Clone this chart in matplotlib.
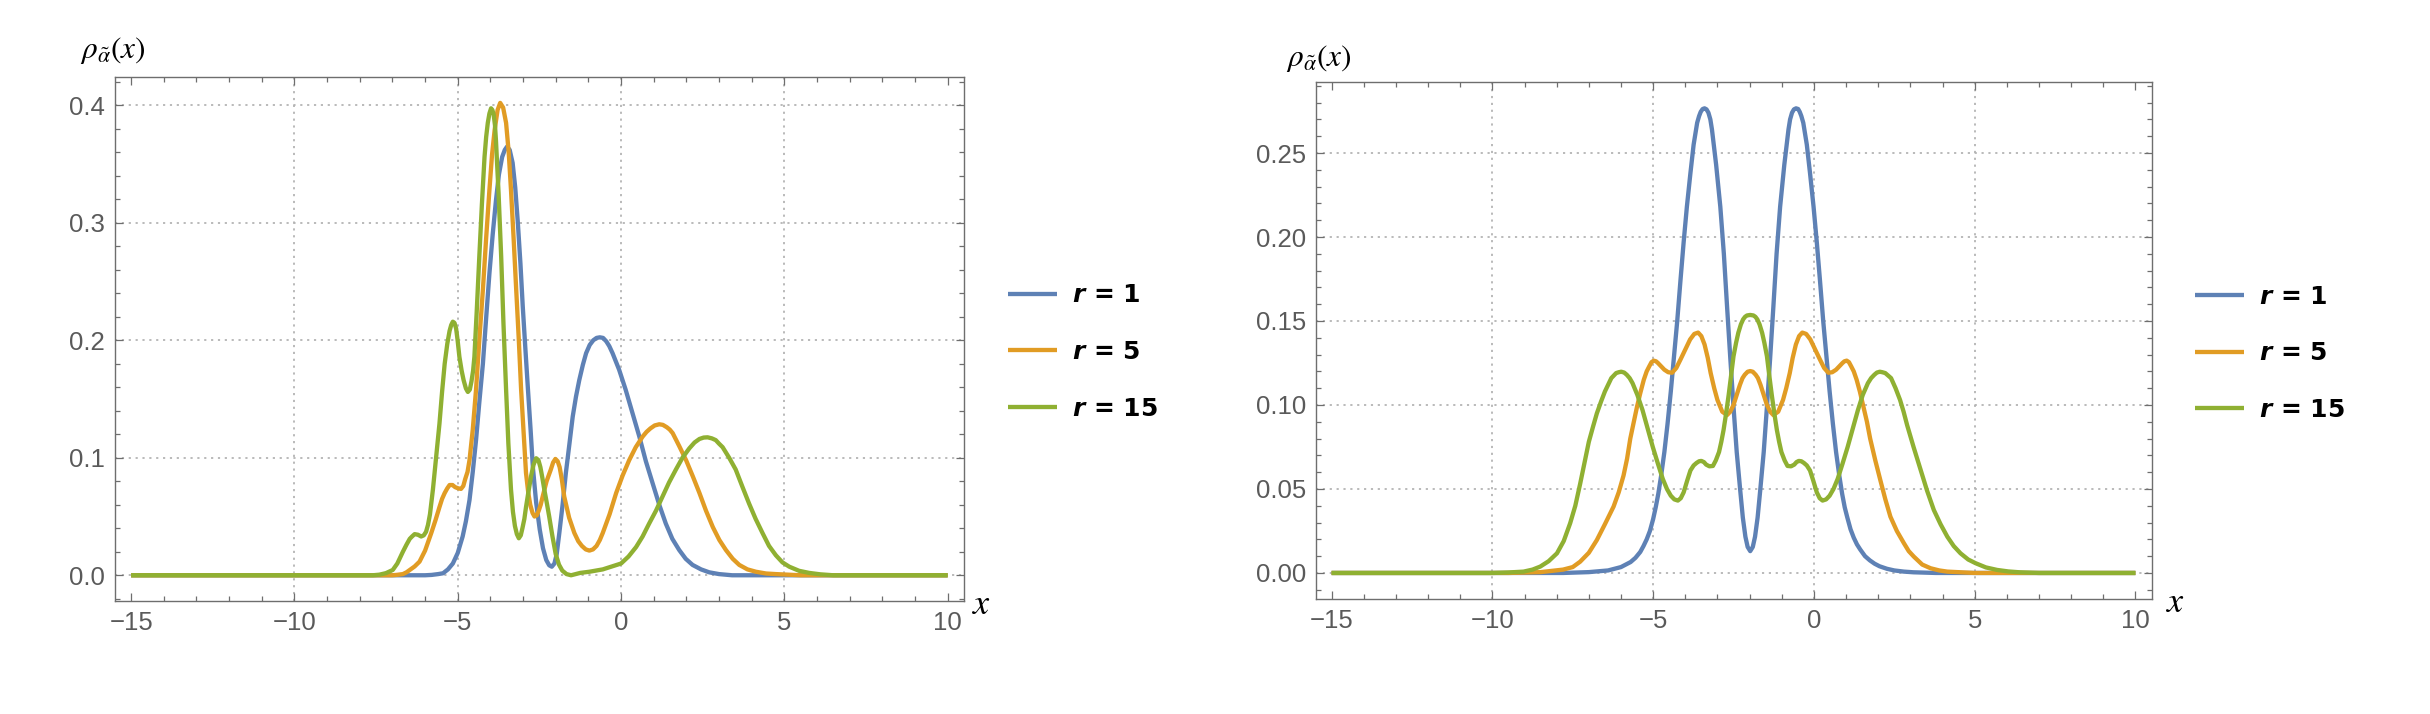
import matplotlib
matplotlib.use("Agg")
import matplotlib.pyplot as plt
from matplotlib.ticker import MultipleLocator, FixedLocator, FormatStrFormatter
from matplotlib.font_manager import FontProperties

plt.rcParams['font.family'] = ['Liberation Sans', 'DejaVu Sans']
plt.rcParams['mathtext.fontset'] = 'custom'
plt.rcParams['mathtext.rm'] = 'DejaVu Sans:bold'
plt.rcParams['mathtext.it'] = 'DejaVu Sans:italic:bold'
plt.rcParams['mathtext.bf'] = 'DejaVu Sans:bold'

# ---------------- data ----------------
labels = ["r = 1", "r = 5", "r = 15"]
colors = ["#5E81B5", "#E19C24", "#8FB032"]
x_ticks = [-15, -10, -5, 0, 5, 10]
left_y_ticks = [0.0, 0.1, 0.2, 0.3, 0.4]
right_y_ticks = [0.00, 0.05, 0.10, 0.15, 0.20, 0.25]

# left panel: (x, rho) pairs
L_r1 = [(-15, 0), (-6.0, 0), (-5.8, 0.0003), (-5.6, 0.001), (-5.45, 0.0017), (-5.3, 0.005), (-5.15, 0.010),
        (-5.0, 0.019), (-4.85, 0.033), (-4.75, 0.046), (-4.64, 0.064), (-4.54, 0.088), (-4.44, 0.115),
        (-4.34, 0.147), (-4.23, 0.180), (-4.13, 0.219), (-4.03, 0.257), (-3.93, 0.290), (-3.83, 0.319),
        (-3.74, 0.341), (-3.64, 0.356), (-3.56, 0.362), (-3.49, 0.3648), (-3.41, 0.362), (-3.32, 0.351),
        (-3.24, 0.330), (-3.16, 0.300), (-3.08, 0.265), (-3.01, 0.229), (-2.93, 0.193), (-2.85, 0.158),
        (-2.77, 0.124), (-2.70, 0.092), (-2.60, 0.062), (-2.49, 0.039), (-2.39, 0.023), (-2.29, 0.013),
        (-2.20, 0.0085), (-2.12, 0.0073), (-2.04, 0.010), (-1.97, 0.018), (-1.89, 0.036), (-1.79, 0.060),
        (-1.69, 0.087), (-1.58, 0.112), (-1.48, 0.135), (-1.38, 0.152), (-1.28, 0.166), (-1.17, 0.179),
        (-1.07, 0.189), (-0.96, 0.196), (-0.85, 0.200), (-0.75, 0.2020), (-0.65, 0.2025), (-0.55, 0.2020),
        (-0.45, 0.199), (-0.36, 0.195), (-0.26, 0.189), (-0.06, 0.175), (0.14, 0.158), (0.35, 0.138),
        (0.56, 0.118), (0.76, 0.097), (0.97, 0.078), (1.17, 0.060), (1.37, 0.044), (1.57, 0.031),
        (1.78, 0.0215), (1.98, 0.014), (2.19, 0.0088), (2.45, 0.005), (2.70, 0.0025), (3.0, 0.001),
        (3.4, 0), (10, 0)]

L_r5 = [(-15, 0), (-7.0, 0), (-6.85, 0.0004), (-6.68, 0.001), (-6.57, 0.0025), (-6.47, 0.0045),
        (-6.32, 0.0075), (-6.17, 0.0116), (-6.0, 0.021), (-5.81, 0.036), (-5.68, 0.047), (-5.56, 0.058),
        (-5.48, 0.065), (-5.40, 0.070), (-5.32, 0.074), (-5.25, 0.0768), (-5.16, 0.0768), (-5.08, 0.075),
        (-4.99, 0.074), (-4.90, 0.0735), (-4.83, 0.076), (-4.77, 0.082), (-4.70, 0.088), (-4.64, 0.098),
        (-4.54, 0.124), (-4.44, 0.158), (-4.34, 0.200), (-4.23, 0.243), (-4.13, 0.287), (-4.03, 0.328),
        (-3.95, 0.358), (-3.87, 0.379), (-3.78, 0.396), (-3.70, 0.402), (-3.61, 0.398), (-3.52, 0.385),
        (-3.44, 0.360), (-3.37, 0.328), (-3.29, 0.287), (-3.21, 0.243), (-3.13, 0.200), (-3.06, 0.158),
        (-2.98, 0.120), (-2.91, 0.087), (-2.84, 0.070), (-2.78, 0.060), (-2.71, 0.053), (-2.65, 0.050),
        (-2.58, 0.051), (-2.52, 0.055), (-2.46, 0.060), (-2.40, 0.067), (-2.28, 0.080), (-2.15, 0.090),
        (-2.08, 0.096), (-2.01, 0.099), (-1.94, 0.097), (-1.88, 0.092), (-1.81, 0.081), (-1.74, 0.067),
        (-1.59, 0.049), (-1.43, 0.036), (-1.31, 0.029), (-1.20, 0.025), (-1.08, 0.022), (-0.97, 0.021),
        (-0.86, 0.022), (-0.75, 0.025), (-0.65, 0.030), (-0.56, 0.036), (-0.35, 0.052), (-0.15, 0.070),
        (0.05, 0.085), (0.25, 0.098), (0.45, 0.109), (0.66, 0.118), (0.78, 0.122), (0.90, 0.125),
        (1.03, 0.1275), (1.17, 0.1285), (1.28, 0.128), (1.40, 0.126), (1.49, 0.124), (1.58, 0.121),
        (1.78, 0.110), (1.99, 0.098), (2.20, 0.084), (2.40, 0.070), (2.60, 0.055), (2.81, 0.041),
        (3.01, 0.030), (3.21, 0.0215), (3.42, 0.014), (3.62, 0.0088), (3.87, 0.005), (4.13, 0.003),
        (4.44, 0.0015), (4.74, 0.001), (5.5, 0), (10, 0)]

L_r15 = [(-15, 0), (-7.6, 0), (-7.4, 0.0005), (-7.2, 0.0018), (-6.99, 0.0045), (-6.85, 0.010),
         (-6.68, 0.020), (-6.57, 0.026), (-6.47, 0.031), (-6.40, 0.033), (-6.32, 0.035), (-6.22, 0.0345),
         (-6.12, 0.033), (-6.04, 0.034), (-5.97, 0.037), (-5.91, 0.043), (-5.85, 0.052), (-5.76, 0.073),
         (-5.66, 0.101), (-5.56, 0.129), (-5.48, 0.156), (-5.40, 0.180), (-5.32, 0.197), (-5.25, 0.208),
         (-5.20, 0.213), (-5.15, 0.2158), (-5.10, 0.2148), (-5.05, 0.210), (-5.00, 0.199), (-4.95, 0.186),
         (-4.88, 0.174), (-4.82, 0.166), (-4.75, 0.159), (-4.69, 0.156), (-4.63, 0.158), (-4.58, 0.165),
         (-4.53, 0.174), (-4.49, 0.186), (-4.42, 0.224), (-4.34, 0.271), (-4.26, 0.316), (-4.18, 0.356),
         (-4.13, 0.373), (-4.08, 0.385), (-4.03, 0.393), (-3.98, 0.3974), (-3.94, 0.396), (-3.90, 0.392),
         (-3.86, 0.383), (-3.83, 0.370), (-3.75, 0.325), (-3.67, 0.271), (-3.60, 0.214), (-3.52, 0.158),
         (-3.45, 0.112), (-3.37, 0.073), (-3.31, 0.054), (-3.25, 0.042), (-3.19, 0.035), (-3.13, 0.0315),
         (-3.07, 0.034), (-3.02, 0.040), (-2.96, 0.048), (-2.91, 0.058), (-2.83, 0.072), (-2.75, 0.085),
         (-2.68, 0.094), (-2.60, 0.0996), (-2.53, 0.098), (-2.47, 0.092), (-2.41, 0.083), (-2.35, 0.073),
         (-2.27, 0.061), (-2.20, 0.050), (-2.10, 0.033), (-2.00, 0.018), (-1.90, 0.009), (-1.80, 0.004),
         (-1.67, 0.001), (-1.53, 0.0), (-1.39, 0.001), (-1.25, 0.002), (-0.97, 0.003), (-0.56, 0.005),
         (-0.28, 0.0075), (0.0, 0.010), (0.23, 0.016), (0.46, 0.024), (0.66, 0.033), (0.86, 0.044),
         (1.07, 0.055), (1.27, 0.067), (1.47, 0.079), (1.68, 0.090), (1.88, 0.100), (2.09, 0.108),
         (2.25, 0.113), (2.40, 0.1160), (2.53, 0.1172), (2.65, 0.1174), (2.78, 0.1165), (2.90, 0.115),
         (3.00, 0.112), (3.11, 0.109), (3.31, 0.100), (3.51, 0.090), (3.72, 0.075), (3.92, 0.061),
         (4.12, 0.048), (4.33, 0.036), (4.53, 0.025), (4.74, 0.017), (4.94, 0.011), (5.15, 0.0073),
         (5.45, 0.0038), (5.76, 0.002), (6.1, 0.0008), (6.5, 0), (10, 0)]

# right panel: (x, rho) pairs
R_r1 = [(-15, 0), (-7.8, 0), (-7.0, 0.0005), (-6.4, 0.0015), (-6.0, 0.0035), (-5.7, 0.0065), (-5.55, 0.009),
        (-5.4, 0.0125), (-5.3, 0.016), (-5.2, 0.020), (-5.1, 0.025), (-5.0, 0.032), (-4.92, 0.039),
        (-4.84, 0.047), (-4.75, 0.058), (-4.65, 0.072), (-4.55, 0.089), (-4.45, 0.108), (-4.35, 0.129),
        (-4.25, 0.150), (-4.15, 0.174), (-4.05, 0.197), (-3.95, 0.218), (-3.84, 0.238), (-3.74, 0.255),
        (-3.63, 0.268), (-3.57, 0.272), (-3.52, 0.2745), (-3.46, 0.2762), (-3.40, 0.2766), (-3.34, 0.276),
        (-3.28, 0.274), (-3.22, 0.270), (-3.17, 0.264), (-3.04, 0.243), (-2.91, 0.218), (-2.80, 0.190),
        (-2.70, 0.1585), (-2.60, 0.128), (-2.50, 0.099), (-2.40, 0.072), (-2.29, 0.049), (-2.21, 0.033),
        (-2.13, 0.0216), (-2.06, 0.0155), (-1.98, 0.013), (-1.90, 0.0155), (-1.83, 0.0216), (-1.75, 0.033),
        (-1.67, 0.049), (-1.56, 0.072), (-1.46, 0.099), (-1.36, 0.128), (-1.26, 0.1585), (-1.16, 0.190),
        (-1.05, 0.218), (-0.92, 0.243), (-0.79, 0.264), (-0.74, 0.270), (-0.68, 0.274), (-0.62, 0.276),
        (-0.555, 0.2766), (-0.49, 0.2762), (-0.44, 0.2745), (-0.39, 0.272), (-0.33, 0.268), (-0.22, 0.255),
        (-0.12, 0.238), (-0.01, 0.218), (0.09, 0.197), (0.19, 0.174), (0.29, 0.150), (0.39, 0.129),
        (0.49, 0.108), (0.59, 0.089), (0.69, 0.072), (0.79, 0.058), (0.88, 0.047), (0.96, 0.039),
        (1.04, 0.033), (1.14, 0.026), (1.24, 0.021), (1.34, 0.017), (1.44, 0.014), (1.59, 0.010),
        (1.74, 0.0075), (1.89, 0.0055), (2.04, 0.004), (2.27, 0.0025), (2.5, 0.0015), (2.8, 0.0008),
        (3.1, 0.0004), (3.8, 0), (10, 0)]

R_r5 = [(-15, 0), (-9.5, 0), (-8.5, 0.0005), (-7.8, 0.002), (-7.5, 0.0035), (-7.27, 0.0067), (-7.0, 0.012),
        (-6.75, 0.0196), (-6.5, 0.029), (-6.23, 0.0395), (-6.07, 0.048), (-5.92, 0.058), (-5.81, 0.068),
        (-5.71, 0.080), (-5.60, 0.090), (-5.50, 0.099), (-5.40, 0.107), (-5.29, 0.115), (-5.20, 0.120),
        (-5.12, 0.123), (-5.05, 0.1255), (-4.98, 0.1264), (-4.91, 0.126), (-4.85, 0.125), (-4.75, 0.123),
        (-4.65, 0.121), (-4.53, 0.1195), (-4.41, 0.1192), (-4.28, 0.122), (-4.15, 0.127), (-4.00, 0.133),
        (-3.85, 0.139), (-3.72, 0.1423), (-3.60, 0.1431), (-3.50, 0.141), (-3.40, 0.136), (-3.30, 0.128),
        (-3.21, 0.119), (-3.10, 0.110), (-3.00, 0.103), (-2.85, 0.096), (-2.70, 0.094), (-2.60, 0.096),
        (-2.50, 0.100), (-2.40, 0.106), (-2.30, 0.112), (-2.22, 0.116), (-2.15, 0.118), (-2.06, 0.1198),
        (-1.98, 0.1202), (-1.90, 0.1198), (-1.81, 0.118), (-1.74, 0.116), (-1.66, 0.112), (-1.56, 0.106),
        (-1.46, 0.100), (-1.36, 0.096), (-1.26, 0.094), (-1.11, 0.096), (-0.96, 0.103), (-0.86, 0.110),
        (-0.75, 0.119), (-0.66, 0.128), (-0.56, 0.136), (-0.46, 0.141), (-0.36, 0.1431), (-0.24, 0.1423),
        (-0.11, 0.139), (0.04, 0.133), (0.19, 0.127), (0.32, 0.122), (0.45, 0.1192), (0.57, 0.1195),
        (0.69, 0.121), (0.79, 0.123), (0.89, 0.125), (0.95, 0.126), (1.02, 0.1264), (1.09, 0.1255),
        (1.16, 0.123), (1.24, 0.120), (1.33, 0.115), (1.43, 0.108), (1.54, 0.099), (1.65, 0.090),
        (1.75, 0.080), (1.91, 0.067), (2.07, 0.055), (2.22, 0.044), (2.38, 0.0335), (2.58, 0.025),
        (2.80, 0.0177), (2.95, 0.013), (3.11, 0.0097), (3.37, 0.005), (3.63, 0.0028), (3.9, 0.0015),
        (4.15, 0.0008), (5.0, 0), (10, 0)]

R_r15 = [(-15, 0), (-10, 0), (-9.5, 0.0003), (-9.03, 0.0008), (-8.75, 0.002), (-8.51, 0.0038), (-8.25, 0.007),
         (-7.99, 0.0117), (-7.78, 0.019), (-7.58, 0.0296), (-7.42, 0.040), (-7.27, 0.053), (-7.13, 0.066),
         (-7.0, 0.078), (-6.87, 0.087), (-6.75, 0.095), (-6.62, 0.102), (-6.50, 0.108), (-6.40, 0.112),
         (-6.30, 0.116), (-6.15, 0.119), (-6.07, 0.1195), (-5.99, 0.1198), (-5.90, 0.1193), (-5.82, 0.118),
         (-5.73, 0.116), (-5.64, 0.113), (-5.49, 0.106), (-5.33, 0.097), (-5.17, 0.086), (-5.01, 0.075),
         (-4.85, 0.065), (-4.70, 0.056), (-4.57, 0.050), (-4.45, 0.046), (-4.34, 0.0438), (-4.23, 0.0431),
         (-4.14, 0.0445), (-4.05, 0.048), (-3.94, 0.055), (-3.84, 0.061), (-3.74, 0.064), (-3.65, 0.0655),
         (-3.57, 0.0665), (-3.50, 0.0667), (-3.42, 0.066), (-3.35, 0.0645), (-3.25, 0.0635), (-3.14, 0.0637),
         (-3.05, 0.067), (-2.95, 0.072), (-2.88, 0.078), (-2.81, 0.085), (-2.73, 0.095), (-2.65, 0.106),
         (-2.57, 0.118), (-2.50, 0.129), (-2.42, 0.137), (-2.35, 0.143), (-2.27, 0.148), (-2.20, 0.151),
         (-2.14, 0.1525), (-2.08, 0.1533), (-1.98, 0.1536), (-1.88, 0.1533), (-1.82, 0.1525), (-1.76, 0.151),
         (-1.69, 0.148), (-1.61, 0.143), (-1.54, 0.137), (-1.46, 0.129), (-1.39, 0.118), (-1.31, 0.106),
         (-1.23, 0.095), (-1.15, 0.085), (-1.08, 0.078), (-1.01, 0.072), (-0.91, 0.067), (-0.82, 0.0637),
         (-0.71, 0.0635), (-0.61, 0.0645), (-0.54, 0.066), (-0.47, 0.0667), (-0.39, 0.0665), (-0.31, 0.0655),
         (-0.22, 0.064), (-0.12, 0.061), (-0.02, 0.055), (0.09, 0.048), (0.18, 0.0445), (0.27, 0.0431),
         (0.38, 0.0438), (0.49, 0.046), (0.61, 0.050), (0.74, 0.056), (0.89, 0.065), (1.05, 0.075),
         (1.21, 0.086), (1.37, 0.097), (1.52, 0.106), (1.68, 0.113), (1.78, 0.116), (1.88, 0.118),
         (1.96, 0.1193), (2.05, 0.1198), (2.13, 0.1195), (2.22, 0.119), (2.31, 0.1175), (2.40, 0.116),
         (2.54, 0.110), (2.68, 0.103), (2.79, 0.096), (2.90, 0.088), (3.10, 0.075), (3.31, 0.062),
         (3.52, 0.049), (3.73, 0.0375), (3.94, 0.029), (4.15, 0.0216), (4.35, 0.016), (4.56, 0.0117),
         (4.80, 0.008), (5.03, 0.0058), (5.35, 0.0033), (5.7, 0.0018), (6.05, 0.0009), (6.4, 0.0004),
         (7, 0), (10, 0)]

left_series = [L_r1, L_r5, L_r15]
right_series = [R_r1, R_r5, R_r15]

# ---------------- figure ----------------
W, H = 2430, 714
fig = plt.figure(figsize=(W / 100, H / 100), dpi=100)
fig.patch.set_facecolor("white")


def px_rect(l, t, r, b):
    return [l / W, (H - b) / H, (r - l) / W, (b - t) / H]


ax1 = fig.add_axes(px_rect(114.8, 76.7, 964, 601))
ax2 = fig.add_axes(px_rect(1315.5, 82.3, 2151.5, 599))

spine_col = "#6e6e6e"
tick_lab_col = "#5a5a5a"
grid_col = "#b4b4b4"


def style(ax, series, ylim, yticks, yminor, yfmt, legend_anchor):
    for pts, c, lab in zip(series, colors, labels):
        xs = [p[0] for p in pts]
        ys = [p[1] for p in pts]
        ax.plot(xs, ys, color=c, lw=3.1, label=lab, solid_capstyle="butt", solid_joinstyle="round")
    ax.set_xlim(-15.5, 10.5)
    ax.set_ylim(*ylim)
    ax.xaxis.set_major_locator(FixedLocator(x_ticks))
    ax.xaxis.set_minor_locator(MultipleLocator(1))
    ax.yaxis.set_major_locator(FixedLocator(yticks))
    ax.yaxis.set_minor_locator(MultipleLocator(yminor))
    ax.yaxis.set_major_formatter(FormatStrFormatter(yfmt))
    ax.tick_params(which="both", direction="in", top=True, right=True, color=spine_col,
                   labelcolor=tick_lab_col, labelsize=18.5, width=0.9)
    ax.tick_params(which="major", length=6, pad=7)
    ax.tick_params(which="minor", length=3.5)
    for s in ax.spines.values():
        s.set_color(spine_col)
        s.set_linewidth(1.0)
    # grid lines at interior major ticks
    for gx in x_ticks[1:-1]:
        ax.axvline(gx, color=grid_col, lw=1.3, ls=(0, (1.2, 2.6)), zorder=0)
    for gy in yticks:
        ax.axhline(gy, color=grid_col, lw=1.3, ls=(0, (1.2, 2.6)), zorder=0)
    handles, labs = ax.get_legend_handles_labels()
    labs = [r"$\mathit{r}$" + l[1:] for l in labs]
    leg = ax.legend(handles, labs, loc="center left", bbox_to_anchor=legend_anchor,
                    bbox_transform=fig.transFigure, frameon=False, borderpad=0, borderaxespad=0,
                    handlelength=1.95, handletextpad=0.6, labelspacing=1.3,
                    prop=FontProperties(family="DejaVu Sans", weight="bold", size=18))
    return leg


style(ax1, left_series, (-0.0219, 0.4243), left_y_ticks, 0.02, "%.1f", (1008 / W, 1 - 352 / H))
style(ax2, right_series, (-0.0155, 0.2921), right_y_ticks, 0.01, "%.2f", (2195 / W, 1 - 353.3 / H))

# axis labels (Mathematica style placement)
ylab = r"$\rho_{\tilde{\alpha}}(x)$"
fig.text(112.5 / W, 1 - 50 / H, ylab, ha="center", va="center", fontsize=22.5, math_fontfamily="stix",
         color="black")
fig.text(1319 / W, 1 - 59 / H, ylab, ha="center", va="center", fontsize=22.5, math_fontfamily="stix",
         color="black")
fig.text(982 / W, 1 - 604 / H, r"$x$", ha="center", va="center", fontsize=26, math_fontfamily="stix",
         color="black")
fig.text(2176 / W, 1 - 602 / H, r"$x$", ha="center", va="center", fontsize=26, math_fontfamily="stix",
         color="black")

fig.savefig("out.png", dpi=100, facecolor="white")
